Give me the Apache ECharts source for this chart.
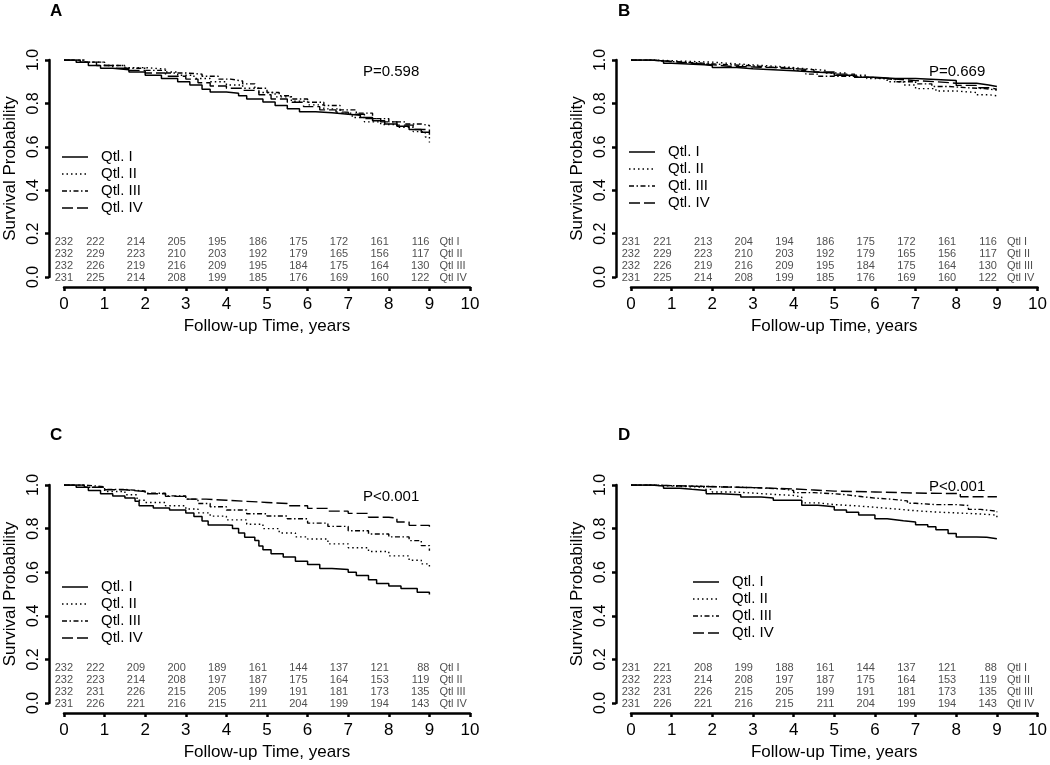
<!DOCTYPE html>
<html>
<head>
<meta charset="utf-8">
<script src="https://cdn.jsdelivr.net/npm/echarts@6/dist/echarts.min.js"></script>
<style>
html,body{margin:0;padding:0;background:#fff;}
#chart{width:1050px;height:765px;}
</style>
</head>
<body>
<div id="chart"></div>
<script>
// ---------- data ----------
const groupNames = ['Qtl. I', 'Qtl. II', 'Qtl. III', 'Qtl. IV'];
const riskRowLabels = ['Qtl I', 'Qtl II', 'Qtl III', 'Qtl IV'];
const riskTimes = [0, 1, 2, 3, 4, 5, 6, 7, 8, 9];
const panelLetters = ['A', 'B', 'C', 'D'];
const pValues = ['P=0.598', 'P=0.669', 'P<0.001', 'P<0.001'];
const xTitle = 'Follow-up Time, years';
const yTitle = 'Survival Probability';

// Panel A survival curves [time, survival]
const A_I = [[0,1],[0.3,0.99],[0.6,0.975],[0.9,0.962],[1.2,0.955],[1.6,0.945],[2.0,0.93],[2.4,0.915],[2.8,0.9],[3.1,0.885],[3.4,0.865],[3.6,0.852],[4.0,0.847],[4.3,0.835],[4.5,0.82],[4.9,0.807],[5.2,0.79],[5.5,0.775],[5.8,0.762],[6.2,0.757],[6.6,0.75],[7.0,0.745],[7.3,0.735],[7.6,0.72],[7.9,0.705],[8.2,0.695],[8.5,0.68],[8.8,0.667],[9.0,0.667]];
const A_II = [[0,1],[0.5,0.99],[1.0,0.975],[1.5,0.965],[2.0,0.958],[2.5,0.945],[2.8,0.93],[3.2,0.915],[3.6,0.9],[4.0,0.885],[4.4,0.87],[4.8,0.85],[5.2,0.83],[5.6,0.81],[6.0,0.793],[6.4,0.775],[6.8,0.755],[7.1,0.735],[7.4,0.715],[7.8,0.703],[8.2,0.69],[8.6,0.67],[8.9,0.645],[9.0,0.62]];
const A_III = [[0,1],[0.5,0.99],[1.0,0.975],[1.5,0.962],[2.0,0.952],[2.5,0.94],[3.0,0.935],[3.4,0.925],[3.8,0.912],[4.1,0.903],[4.4,0.89],[4.7,0.87],[5.0,0.85],[5.3,0.835],[5.6,0.82],[6.0,0.805],[6.4,0.79],[6.8,0.77],[7.2,0.755],[7.6,0.73],[8.0,0.715],[8.4,0.705],[8.8,0.698],[9.0,0.693]];
const A_IV = [[0,1],[0.4,0.99],[0.8,0.975],[1.2,0.962],[1.6,0.952],[2.0,0.94],[2.5,0.925],[3.0,0.912],[3.3,0.895],[3.6,0.88],[4.0,0.87],[4.4,0.86],[4.8,0.84],[5.1,0.82],[5.5,0.805],[5.9,0.785],[6.3,0.77],[6.7,0.76],[7.0,0.75],[7.4,0.73],[7.8,0.715],[8.2,0.7],[8.6,0.68],[9.0,0.655]];

// Panel B
const B_I = [[0,1],[0.5,0.995],[0.8,0.985],[1.0,0.978],[1.8,0.975],[2.0,0.965],[2.6,0.96],[3.0,0.955],[3.5,0.95],[4.0,0.945],[4.5,0.94],[5.0,0.93],[5.5,0.92],[6.0,0.915],[6.5,0.915],[7.0,0.91],[7.5,0.905],[8.0,0.893],[8.5,0.885],[8.8,0.878],[9.0,0.875]];
const B_II = [[0,1],[0.6,0.995],[1.2,0.99],[2.0,0.982],[2.6,0.975],[3.2,0.968],[3.8,0.96],[4.3,0.952],[4.8,0.94],[5.3,0.93],[5.8,0.915],[6.3,0.9],[6.7,0.885],[7.0,0.868],[7.5,0.857],[8.0,0.85],[8.5,0.84],[8.8,0.835],[9.0,0.825]];
const B_III = [[0,1],[0.5,0.993],[1.0,0.987],[1.6,0.98],[2.2,0.975],[2.8,0.968],[3.4,0.962],[4.0,0.952],[4.3,0.935],[4.6,0.925],[5.0,0.925],[5.5,0.918],[6.0,0.91],[6.5,0.9],[7.0,0.89],[7.4,0.878],[7.8,0.872],[8.3,0.868],[8.7,0.862],[9.0,0.86]];
const B_IV = [[0,1],[0.5,0.993],[1.0,0.985],[1.5,0.978],[2.0,0.97],[2.5,0.968],[3.0,0.965],[3.5,0.96],[4.0,0.955],[4.5,0.945],[5.0,0.935],[5.5,0.92],[6.0,0.912],[6.5,0.905],[7.0,0.9],[7.5,0.893],[8.0,0.883],[8.5,0.872],[8.8,0.866],[9.0,0.865]];

// Panel C
const C_I = [[0,1],[0.3,0.99],[0.6,0.975],[0.9,0.96],[1.2,0.95],[1.5,0.94],[1.75,0.925],[1.85,0.905],[2.2,0.895],[2.6,0.885],[3.0,0.872],[3.2,0.855],[3.4,0.835],[3.55,0.817],[4.0,0.815],[4.15,0.8],[4.3,0.78],[4.45,0.76],[4.7,0.745],[4.8,0.72],[4.9,0.703],[5.1,0.685],[5.4,0.67],[5.7,0.65],[6.0,0.635],[6.3,0.617],[6.6,0.612],[7.0,0.6],[7.2,0.585],[7.5,0.565],[7.7,0.548],[8.0,0.537],[8.3,0.525],[8.7,0.508],[9.0,0.498]];
const C_II = [[0,1],[0.5,0.99],[1.0,0.97],[1.5,0.955],[1.8,0.93],[2.0,0.92],[2.5,0.905],[3.0,0.89],[3.3,0.872],[3.6,0.857],[4.0,0.84],[4.5,0.82],[4.9,0.8],[5.3,0.78],[5.7,0.762],[6.0,0.752],[6.5,0.73],[7.0,0.712],[7.5,0.695],[8.0,0.675],[8.5,0.655],[8.8,0.638],[9.0,0.62]];
const C_III = [[0,1],[0.5,0.992],[1.0,0.98],[1.5,0.972],[2.0,0.962],[2.5,0.95],[3.0,0.935],[3.3,0.915],[3.6,0.9],[4.0,0.885],[4.5,0.868],[5.0,0.858],[5.5,0.845],[6.0,0.825],[6.5,0.81],[7.0,0.79],[7.5,0.775],[8.0,0.762],[8.5,0.745],[8.8,0.722],[9.0,0.698]];
const C_IV = [[0,1],[0.5,0.99],[1.0,0.978],[1.5,0.97],[2.0,0.96],[2.5,0.948],[3.0,0.935],[3.5,0.93],[4.0,0.925],[4.5,0.92],[5.0,0.915],[5.5,0.905],[6.0,0.893],[6.5,0.88],[7.0,0.87],[7.5,0.852],[8.0,0.848],[8.2,0.83],[8.5,0.815],[9.0,0.808]];

// Panel D
const D_I = [[0,1],[0.5,0.995],[0.8,0.985],[1.2,0.98],[1.5,0.975],[1.85,0.96],[2.2,0.955],[2.7,0.945],[3.2,0.94],[3.5,0.93],[4.15,0.93],[4.2,0.907],[4.6,0.9],[5.0,0.885],[5.3,0.875],[5.6,0.862],[6.0,0.845],[6.3,0.836],[6.7,0.83],[7.0,0.818],[7.3,0.808],[7.5,0.795],[7.8,0.778],[8.0,0.762],[8.5,0.76],[8.75,0.753],[9.0,0.753]];
const D_II = [[0,1],[0.5,0.995],[1.0,0.99],[1.8,0.98],[2.0,0.968],[2.5,0.963],[3.0,0.957],[3.5,0.952],[4.0,0.945],[4.2,0.918],[4.6,0.91],[5.0,0.905],[5.5,0.898],[6.0,0.89],[6.5,0.882],[7.0,0.876],[7.5,0.872],[8.0,0.868],[8.5,0.862],[9.0,0.852]];
const D_III = [[0,1],[0.5,0.997],[1.0,0.993],[2.0,0.988],[3.0,0.982],[3.7,0.975],[4.0,0.965],[4.5,0.96],[5.0,0.955],[5.3,0.946],[5.7,0.94],[6.0,0.935],[6.4,0.927],[6.8,0.916],[7.0,0.91],[7.5,0.91],[8.0,0.906],[8.3,0.888],[8.6,0.88],[9.0,0.875]];
const D_IV = [[0,1],[0.5,0.997],[1.0,0.992],[2.0,0.988],[3.0,0.982],[4.0,0.977],[4.5,0.972],[5.0,0.968],[6.0,0.963],[7.0,0.961],[7.9,0.961],[8.1,0.946],[9.0,0.945]];

// Numbers at risk (rows: Qtl I..IV, columns: year 0..9)
const riskA_I = [232,222,214,205,195,186,175,172,161,116];
const riskA_II = [232,229,223,210,203,192,179,165,156,117];
const riskA_III = [232,226,219,216,209,195,184,175,164,130];
const riskA_IV = [231,225,214,208,199,185,176,169,160,122];
const riskB_I = [231,221,213,204,194,186,175,172,161,116];
const riskB_II = [232,229,223,210,203,192,179,165,156,117];
const riskB_III = [232,226,219,216,209,195,184,175,164,130];
const riskB_IV = [231,225,214,208,199,185,176,169,160,122];
const riskC_I = [232,222,209,200,189,161,144,137,121,88];
const riskC_II = [232,223,214,208,197,187,175,164,153,119];
const riskC_III = [232,231,226,215,205,199,191,181,173,135];
const riskC_IV = [231,226,221,216,215,211,204,199,194,143];
const riskD_I = [231,221,208,199,188,161,144,137,121,88];
const riskD_II = [232,223,214,208,197,187,175,164,153,119];
const riskD_III = [232,231,226,215,205,199,191,181,173,135];
const riskD_IV = [231,226,221,216,215,211,204,199,194,143];

// ---------- layout / styles ----------
const FONT = '"Liberation Sans", Arial, Helvetica, sans-serif';
const curves = [[A_I,A_II,A_III,A_IV],[B_I,B_II,B_III,B_IV],[C_I,C_II,C_III,C_IV],[D_I,D_II,D_III,D_IV]];
const risks = [[riskA_I,riskA_II,riskA_III,riskA_IV],[riskB_I,riskB_II,riskB_III,riskB_IV],[riskC_I,riskC_II,riskC_III,riskC_IV],[riskD_I,riskD_II,riskD_III,riskD_IV]];
const grids = [
  {left: 64, top: 60, width: 406, height: 217},
  {left: 631, top: 60, width: 407, height: 217},
  {left: 64, top: 485, width: 406, height: 218},
  {left: 631, top: 485, width: 407, height: 218}
];
const lineTypes = ['solid', [1.5, 3], [5, 2.5, 1.5, 2.5], [11, 4]];
const lineWidths = [1.5, 1.4, 1.4, 1.4];
const rowOffsets = [-35, -23, -11, 0.5];
const legendPos = [[62, 157], [629, 152], [62, 587], [693, 582]];
const letterPos = [[50, 11], [618, 11], [50, 435], [618, 435]];
const pPos = [[363, 72], [929, 72], [363, 497], [929, 487]];

const xAxes = [], yAxes = [], series = [], graphics = [];
grids.forEach((g, p) => {
  xAxes.push({
    gridIndex: p, type: 'value', min: 0, max: 10, interval: 1, offset: 10,
    axisLine: {show: true, onZero: false, lineStyle: {color: '#000', width: 2.5}},
    axisTick: {show: true, length: 4, lineStyle: {color: '#000', width: 2.5}},
    axisLabel: {fontSize: 17, color: '#000', margin: 9, fontFamily: FONT},
    splitLine: {show: false},
    name: xTitle, nameLocation: 'middle', nameGap: 31,
    nameTextStyle: {fontSize: 17, color: '#000', fontFamily: FONT}
  });
  yAxes.push({
    gridIndex: p, type: 'value', min: 0, max: 1, interval: 0.2, offset: 15,
    axisLine: {show: true, onZero: false, lineStyle: {color: '#000', width: 2.5}},
    axisTick: {show: true, length: 4, lineStyle: {color: '#000', width: 2.5}},
    axisLabel: {fontSize: 16, color: '#000', margin: 7, rotate: 90, fontFamily: FONT,
      formatter: v => v.toFixed(1)},
    splitLine: {show: false},
    name: yTitle, nameLocation: 'middle', nameGap: 30,
    nameTextStyle: {fontSize: 17, color: '#000', fontFamily: FONT}
  });
  curves[p].forEach((c, k) => {
    series.push({
      type: 'line', name: groupNames[k], xAxisIndex: p, yAxisIndex: p,
      data: c, step: 'end', symbol: 'none', showSymbol: false,
      lineStyle: {color: '#000', width: lineWidths[k], type: lineTypes[k]},
      itemStyle: {color: '#000'},
      silent: true, z: 3
    });
  });
  risks[p].forEach((row, r) => {
    const items = row.map((n, i) => ({
      value: [riskTimes[i], 0, n],
      label: {offset: [i === 0 ? 9 : 0, rowOffsets[r]]}
    }));
    items.push({
      value: [riskTimes[riskTimes.length - 1], 0, riskRowLabels[r]],
      label: {align: 'left', offset: [10, rowOffsets[r]]}
    });
    series.push({
      type: 'scatter', name: 'risk' + p + r, xAxisIndex: p, yAxisIndex: p,
      data: items, symbolSize: 1, clip: false, silent: true,
      itemStyle: {color: 'rgba(0,0,0,0)'},
      label: {show: true, position: 'inside', align: 'right', verticalAlign: 'middle',
        fontSize: 11, color: '#222', fontFamily: FONT,
        formatter: prm => String(prm.value[2])}
    });
  });
  // legend (drawn as graphic so the line patterns match)
  groupNames.forEach((nm, k) => {
    const lx = legendPos[p][0], ly = legendPos[p][1] + 17 * k;
    graphics.push({
      type: 'line', shape: {x1: lx, y1: ly, x2: lx + 26, y2: ly},
      style: {stroke: '#000', lineWidth: lineWidths[k],
        lineDash: lineTypes[k] === 'solid' ? null : lineTypes[k]},
      silent: true
    });
    graphics.push({
      type: 'text', x: lx + 39, y: ly,
      style: {text: nm, fill: '#000', font: '15px ' + FONT, align: 'left', verticalAlign: 'middle'},
      silent: true
    });
  });
  graphics.push({
    type: 'text', x: letterPos[p][0], y: letterPos[p][1],
    style: {text: panelLetters[p], fill: '#000', font: 'bold 17px ' + FONT,
      align: 'left', verticalAlign: 'middle'}
  });
  graphics.push({
    type: 'text', x: pPos[p][0], y: pPos[p][1],
    style: {text: pValues[p], fill: '#000', font: '15px ' + FONT,
      align: 'left', verticalAlign: 'middle'}
  });
});

const chart = echarts.init(document.getElementById('chart'), null, {renderer: 'canvas'});
chart.setOption({
  animation: false,
  backgroundColor: '#fff',
  textStyle: {fontFamily: FONT},
  grid: grids,
  xAxis: xAxes,
  yAxis: yAxes,
  series: series,
  graphic: graphics
});
</script>
</body>
</html>
